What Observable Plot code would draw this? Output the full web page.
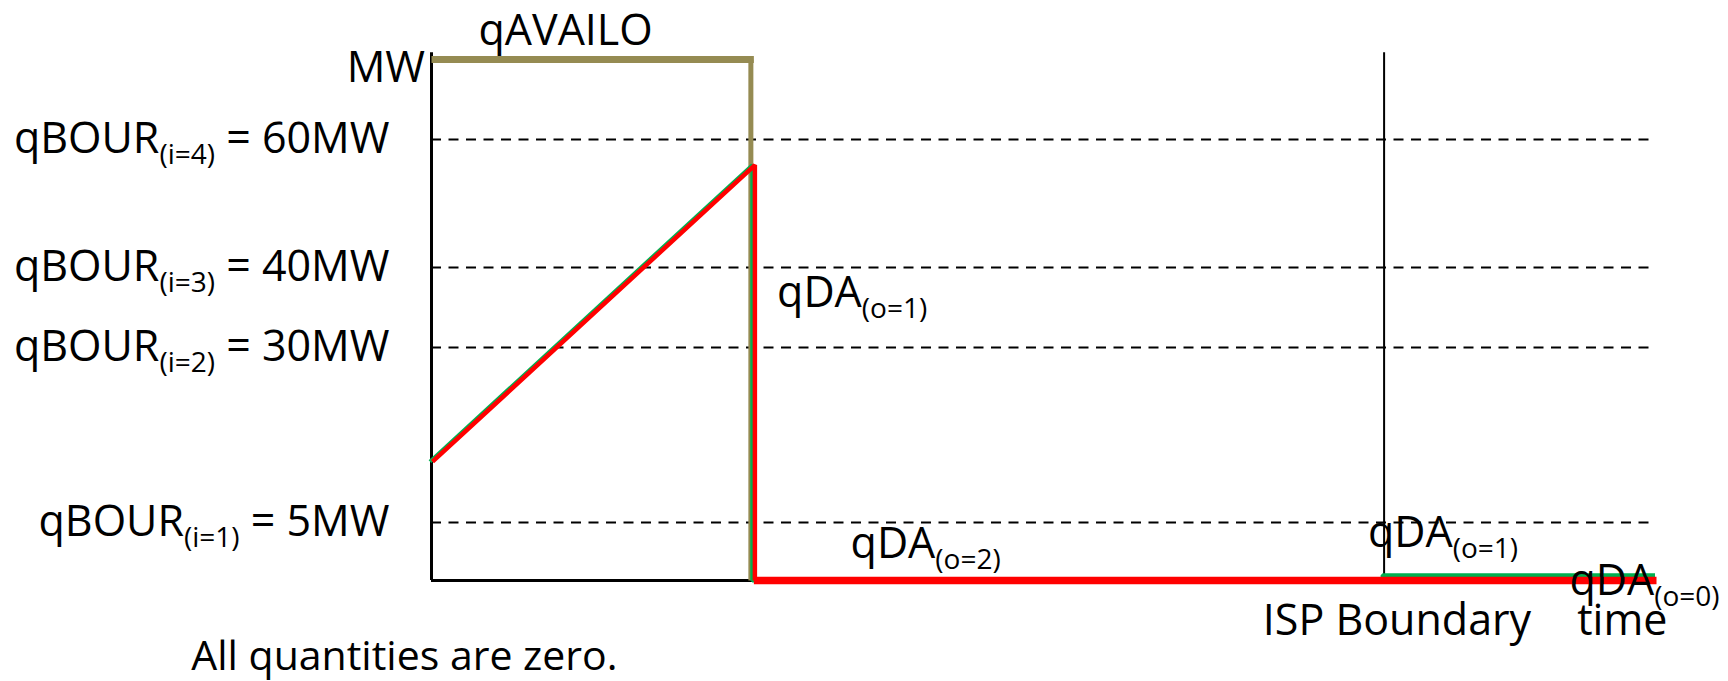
<!DOCTYPE html>
<html>
<head>
<meta charset="utf-8">
<script src="https://cdn.jsdelivr.net/npm/d3@7"></script>
<script src="https://cdn.jsdelivr.net/npm/@observablehq/plot@0.6"></script>
<style>
  html, body { margin: 0; padding: 0; background: #fff; }
  svg { display: block; }
</style>
</head>
<body>
<script>
// ---- schematic values (time in arbitrary units, MW) ----
const levelMW = [60, 40, 30, 5];
const levelLabels = [
  "qBOUR_{(i=4)} = 60MW",
  "qBOUR_{(i=3)} = 40MW",
  "qBOUR_{(i=2)} = 30MW",
  "qBOUR_{(i=1)} = 5MW"
];
const availMW = 72;          // qAVAILO level
const axisTopMW = 73;        // top of the MW axis
const rampTime = [0, 1];     // start / end of the ramp
const rampMW = [13.7, 56];   // MW at start / end of ramp
const dropTime = 1;          // step down to zero
const ispTime = 2.955;       // ISP boundary
const endTime = 3.8;         // end of time axis
const tailMW = 0.45;         // qDA(o=1) after the ISP boundary

const annotations = [
  {text: "qAVAILO", t: 0.416, v: 76.3, anchor: "middle", size: 43},
  {text: "MW", t: -0.02, v: 70.7, anchor: "end", size: 43},
  {text: "qDA_{(o=1)}", t: 1.072, v: 36.8, anchor: "start", size: 43},
  {text: "qDA_{(o=2)}", t: 1.3, v: 3.1, anchor: "start", size: 43},
  {text: "qDA_{(o=1)}", t: 2.905, v: 4.05, anchor: "start", size: 43},
  {text: "qDA_{(o=0)}", t: 3.53, v: -0.09, anchor: "start", size: 43},
  {text: "ISP Boundary", t: 2.995, v: -3.53, anchor: "middle", size: 43},
  {text: "time", t: 3.694, v: -3.53, anchor: "middle", size: 43},
  {text: "All quantities are zero.", t: -0.084, v: -6.55, anchor: "middle", size: 41}
];

const olive = "#958B52", red = "#FF0000", green = "#00B050";
const FS = 43;

// the MW axis of the schematic is not uniform: piecewise scale transform
const mwWarp = d3.scaleLinear().domain([0, 5, 30, 40, 60, 72]).range([0, 58, 233, 313, 441, 521]);

const pt = (t, v) => ({t, v});
const availH = [pt(0, availMW), pt(dropTime, availMW)];
const availV = [pt(dropTime, availMW), pt(dropTime, 0)];
const greenPath = [pt(rampTime[0], rampMW[0]), pt(rampTime[1], rampMW[1]), pt(dropTime, 0),
                   pt(ispTime, 0), pt(ispTime, tailMW), pt(endTime, tailMW)];
const redRamp = [pt(rampTime[0], rampMW[0]), pt(rampTime[1], rampMW[1]), pt(dropTime, 0)];
const redBottom = [pt(dropTime, 0), pt(endTime, 0)];

const textOpts = (anchor) => ({
  x: "t", y: "v", text: "text", textAnchor: anchor, lineAnchor: "middle", fontSize: "size", fill: "black"
});

const svg = Plot.plot({
  width: 1728,
  height: 681,
  margin: 0,
  style: {fontFamily: "'Open Sans', sans-serif", background: "white", color: "black"},
  x: {domain: [0, endTime], range: [431, 1656], axis: null},
  y: {transform: mwWarp, domain: [0, 521], range: [580, 59], axis: null},
  marks: [
    Plot.ruleY(levelMW, {y: d => d, x1: 0, x2: endTime, stroke: "black", strokeWidth: 2, strokeDasharray: "10,7.5"}),
    Plot.ruleX([ispTime], {x: d => d, y1: 0, y2: axisTopMW, stroke: "black", strokeWidth: 2}),
    Plot.ruleX([0], {x: d => d, y1: 0, y2: axisTopMW, stroke: "black", strokeWidth: 3}),
    Plot.ruleY([0], {y: d => d, x1: 0, x2: dropTime, stroke: "black", strokeWidth: 3}),
    Plot.line(availH, {x: "t", y: "v", stroke: olive, strokeWidth: 7, strokeLinecap: "butt"}),
    Plot.line(availV, {x: "t", y: "v", stroke: olive, strokeWidth: 5, strokeLinecap: "butt", dx: -3}),
    Plot.line(greenPath, {x: "t", y: "v", stroke: green, strokeWidth: 4, strokeLinecap: "butt", strokeLinejoin: "miter", dx: -1.5}),
    Plot.line(redRamp, {x: "t", y: "v", stroke: red, strokeWidth: 4.5, strokeLinecap: "butt", strokeLinejoin: "miter", dx: 1}),
    Plot.line(redBottom, {x: "t", y: "v", stroke: red, strokeWidth: 7.5, strokeLinecap: "butt"}),
    Plot.text(levelMW, {x: 0, y: d => d, text: (d, i) => levelLabels[i], textAnchor: "end", lineAnchor: "middle", dx: -42, fontSize: FS, fill: "black"}),
    Plot.text(annotations.filter(d => d.anchor === "start"), textOpts("start")),
    Plot.text(annotations.filter(d => d.anchor === "middle"), textOpts("middle")),
    Plot.text(annotations.filter(d => d.anchor === "end"), textOpts("end"))
  ]
});

// turn "_{...}" parts into real subscript tspans
d3.select(svg).selectAll("text").each(function() {
  const s = this.textContent;
  const m = s.match(/^(.*?)_\{(.*?)\}(.*)$/);
  if (!m) return;
  const el = d3.select(this);
  el.text(null);
  el.append("tspan").text(m[1]);
  el.append("tspan").attr("font-size", 28).attr("dy", 11).text(m[2]);
  if (m[3]) el.append("tspan").attr("dy", -11).attr("xml:space", "preserve").text(m[3]);
});

document.body.appendChild(svg);
</script>
</body>
</html>
